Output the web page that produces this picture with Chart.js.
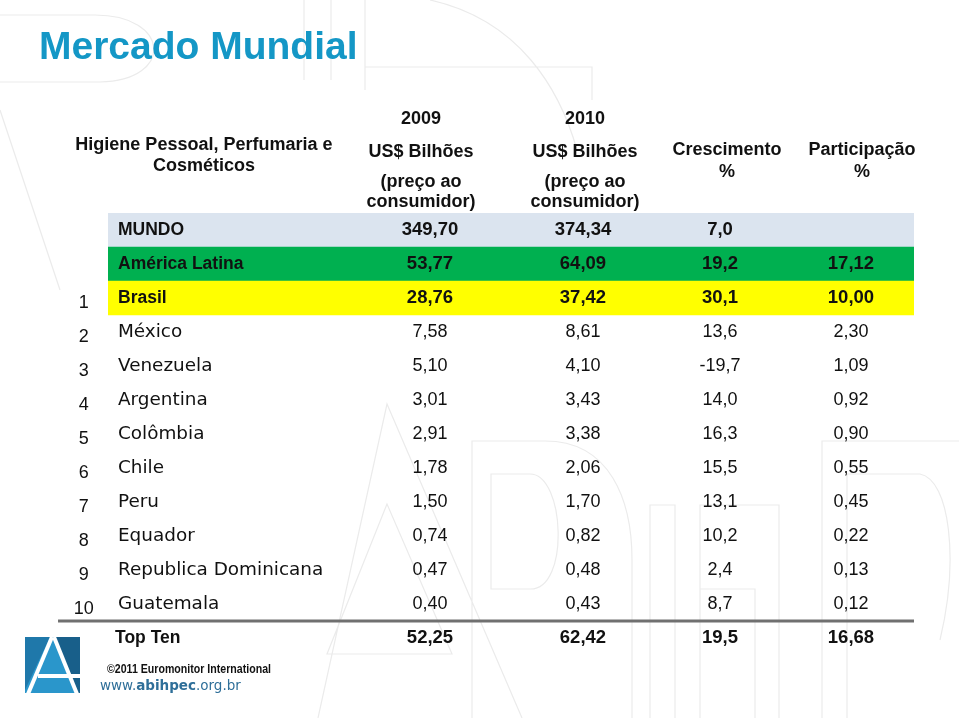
<!DOCTYPE html>
<html>
<head>
<meta charset="utf-8">
<script src="https://cdn.jsdelivr.net/npm/chart.js@4"></script>
<style>
html,body{margin:0;padding:0;background:#ffffff;}
#wrap{width:959px;height:718px;position:relative;}
</style>
</head>
<body>
<div id="wrap"><canvas id="c" width="959" height="718"></canvas></div>
<script>
// ---- data ----
const titleText = 'Mercado Mundial';
const rowLabels = ['MUNDO','América Latina','Brasil','México','Venezuela','Argentina','Colômbia','Chile','Peru','Equador','Republica Dominicana','Guatemala','Top Ten'];
const ranks = ['','','1','2','3','4','5','6','7','8','9','10',''];
const usd2009 = [349.70,53.77,28.76,7.58,5.10,3.01,2.91,1.78,1.50,0.74,0.47,0.40,52.25];
const usd2010 = [374.34,64.09,37.42,8.61,4.10,3.43,3.38,2.06,1.70,0.82,0.48,0.43,62.42];
const crescimento = [7.0,19.2,30.1,13.6,-19.7,14.0,16.3,15.5,13.1,10.2,2.4,8.7,19.5];
const participacao = [null,17.12,10.00,2.30,1.09,0.92,0.90,0.55,0.45,0.22,0.13,0.12,16.68];
const boldRows = ['MUNDO','América Latina','Brasil','Top Ten'];
const highlightedRows = ['MUNDO','América Latina','Brasil'];
const headerCategory = ['Higiene Pessoal, Perfumaria e','Cosméticos'];
const header2009 = ['2009','US$ Bilhões','(preço ao','consumidor)'];
const header2010 = ['2010','US$ Bilhões','(preço ao','consumidor)'];
const headerGrowth = ['Crescimento','%'];
const headerShare = ['Participação','%'];
const sourceText = '©2011 Euromonitor International';

// ---- styling ----
const bandColors = {'MUNDO':'#dbe4ef','América Latina':'#00b050','Brasil':'#ffff00'};
const fmt = (v,d) => v === null ? '' : v.toFixed(d).replace('.',',');
// column positions as fractions of the table width (x scale 0..1)
const COL = {rank:-0.030, label:0.0124, c1:0.3995, c2:0.5893, c3:0.7593, c4:0.9218};
const HCOL = {cat:0.119, c1:0.3883, c2:0.5918, c3:0.768, c4:0.9355};

function fitText(ctx, text, x, y, maxW){
  const w = ctx.measureText(text).width;
  if (w > maxW) {
    ctx.save(); ctx.translate(x,y); ctx.scale(maxW/w,1); ctx.fillText(text,0,0); ctx.restore();
  } else ctx.fillText(text,x,y);
}

const tablePlugin = {
  id:'tableText',
  afterDatasetsDraw(chart){
    const ctx = chart.ctx;
    const xs = chart.scales.x, ys = chart.scales.y;
    const X = v => xs.getPixelForValue(v);
    const Y = i => ys.getPixelForValue(i);
    const top = chart.chartArea.top;
    ctx.save();
    ctx.textBaseline = 'middle';
    ctx.fillStyle = '#111';

    // header
    ctx.font = 'bold 18px "Liberation Sans", Arial, sans-serif';
    ctx.textAlign = 'center';
    ctx.fillText(headerCategory[0], X(HCOL.cat), top-68);
    ctx.fillText(headerCategory[1], X(HCOL.cat), top-47);
    const hy = [top-94, top-61, top-31, top-11];
    header2009.forEach((t,k)=>ctx.fillText(t, X(HCOL.c1), hy[k]));
    header2010.forEach((t,k)=>ctx.fillText(t, X(HCOL.c2), hy[k]));
    ctx.fillText(headerGrowth[0], X(HCOL.c3), top-63);
    ctx.fillText(headerGrowth[1], X(HCOL.c3), top-41);
    ctx.fillText(headerShare[0], X(HCOL.c4), top-63);
    ctx.fillText(headerShare[1], X(HCOL.c4), top-41);

    // rows
    rowLabels.forEach((lab,i)=>{
      const y = Y(i);
      const bold = boldRows.includes(lab);
      ctx.fillStyle = '#111';
      if (ranks[i]) {
        ctx.font = '18px "Liberation Sans", Arial, sans-serif';
        ctx.textAlign = 'center';
        ctx.fillText(ranks[i], X(COL.rank), y+5);
      }
      ctx.textAlign = 'left';
      ctx.font = bold ? 'bold 17.5px "Liberation Sans", Arial, sans-serif' : '18.4px "DejaVu Sans", sans-serif';
      ctx.fillText(lab, X(COL.label) - (lab==='Top Ten'?3:0), y);
      ctx.textAlign = 'center';
      ctx.font = bold ? 'bold 18.5px "Liberation Sans", Arial, sans-serif' : '18px "Liberation Sans", Arial, sans-serif';
      ctx.fillText(fmt(usd2009[i],2), X(COL.c1), y);
      ctx.fillText(fmt(usd2010[i],2), X(COL.c2), y);
      ctx.fillText(fmt(crescimento[i],1), X(COL.c3), y);
      ctx.fillText(fmt(participacao[i],2), X(COL.c4), y);
    });

    // separator above Top Ten
    const n = rowLabels.length;
    const sepY = (Y(n-2)+Y(n-1))/2;
    ctx.strokeStyle = '#707070'; ctx.lineWidth = 3;
    ctx.beginPath(); ctx.moveTo(X(-0.062), sepY); ctx.lineTo(X(1), sepY); ctx.stroke();
    ctx.restore();
  },
  beforeDraw(chart){
    const ctx = chart.ctx;
    ctx.save();
    ctx.fillStyle = '#fff'; ctx.fillRect(0,0,chart.width,chart.height);
    // faint watermark outlines (decoration)
    ctx.strokeStyle = '#ebebeb'; ctx.lineWidth = 1.2;
    ctx.beginPath();
    // top-left letters
    ctx.moveTo(0,15); ctx.lineTo(95,15); ctx.bezierCurveTo(170,15,175,80,100,82); ctx.lineTo(0,82);
    ctx.moveTo(304,0); ctx.lineTo(304,80); ctx.moveTo(331,0); ctx.lineTo(331,80);
    ctx.moveTo(365,0); ctx.lineTo(365,90); ctx.moveTo(365,67); ctx.lineTo(592,67); ctx.lineTo(592,100);
    ctx.moveTo(430,0); ctx.bezierCurveTo(520,20,560,90,577,150);
    ctx.moveTo(0,110); ctx.lineTo(60,290);
    // bottom big A
    ctx.moveTo(318,718); ctx.lineTo(387,404); ctx.lineTo(522,718);
    ctx.moveTo(387,504); ctx.lineTo(327,654); ctx.lineTo(452,654); ctx.closePath();
    // D
    ctx.moveTo(472,718); ctx.lineTo(472,441); ctx.lineTo(545,441);
    ctx.bezierCurveTo(610,441,632,500,632,560); ctx.lineTo(632,718);
    ctx.moveTo(491,474); ctx.lineTo(530,474); ctx.bezierCurveTo(565,474,570,590,530,589); ctx.lineTo(491,589); ctx.closePath();
    // I / H
    ctx.moveTo(650,718); ctx.lineTo(650,505); ctx.lineTo(675,505); ctx.lineTo(675,718);
    ctx.moveTo(700,718); ctx.lineTo(700,505); ctx.lineTo(779,505); ctx.lineTo(779,718);
    ctx.moveTo(700,589); ctx.lineTo(755,589); ctx.lineTo(755,718);
    // right P
    ctx.moveTo(822,718); ctx.lineTo(822,441); ctx.lineTo(959,441);
    ctx.moveTo(847,718); ctx.lineTo(847,474); ctx.lineTo(920,474); ctx.bezierCurveTo(950,480,959,560,940,640);
    ctx.stroke();
    ctx.restore();
  },
  afterDraw(chart){
    const ctx = chart.ctx;
    ctx.save();
    // title
    ctx.fillStyle = '#1497c6';
    ctx.font = 'bold 39px "Liberation Sans", Arial, sans-serif';
    ctx.textBaseline = 'middle'; ctx.textAlign = 'left';
    ctx.fillText(titleText, 39, 48);
    // logo
    ctx.fillStyle = '#2a96cb'; ctx.fillRect(25,637,55,56);
    ctx.fillStyle = '#185f8a';
    ctx.beginPath(); ctx.moveTo(55,637); ctx.lineTo(80,637); ctx.lineTo(80,693); ctx.lineTo(78,693); ctx.closePath(); ctx.fill();
    ctx.fillStyle = '#1f78aa';
    ctx.beginPath(); ctx.moveTo(25,637); ctx.lineTo(50,637); ctx.lineTo(25,690); ctx.closePath(); ctx.fill();
    ctx.strokeStyle = '#fff'; ctx.lineWidth = 4;
    ctx.beginPath(); ctx.moveTo(28,694); ctx.lineTo(52,637); ctx.stroke();
    ctx.beginPath(); ctx.moveTo(54,637); ctx.lineTo(77,694); ctx.stroke();
    ctx.beginPath(); ctx.moveTo(38,676); ctx.lineTo(80,676); ctx.stroke();
    // source
    ctx.fillStyle = '#111';
    ctx.font = 'bold 12px "Liberation Sans", Arial, sans-serif';
    fitText(ctx, sourceText, 107, 670, 164);
    // url
    ctx.fillStyle = '#2f6f99';
    let x = 100;
    const parts = [['www.', false], ['abihpec', true], ['.org.br', false]];
    parts.forEach(([t,b])=>{
      ctx.font = (b?'bold ':'') + '13.5px "DejaVu Sans", sans-serif';
      ctx.fillText(t, x, 686);
      x += ctx.measureText(t).width;
    });
    ctx.restore();
  }
};

new Chart(document.getElementById('c'), {
  type:'bar',
  data:{
    labels: rowLabels,
    datasets:[{
      data: rowLabels.map(l => highlightedRows.includes(l) ? [0,1] : null),
      backgroundColor: rowLabels.map(l => bandColors[l] || 'rgba(0,0,0,0)'),
      borderWidth:0,
      barPercentage:1,
      categoryPercentage:1
    }]
  },
  options:{
    responsive:false,
    animation:false,
    indexAxis:'y',
    layout:{padding:{left:108,right:45,top:213,bottom:63}},
    plugins:{legend:{display:false},tooltip:{enabled:false},title:{display:false}},
    scales:{
      x:{type:'linear',min:0,max:1,display:false},
      y:{type:'category',display:false,offset:true}
    }
  },
  plugins:[tablePlugin]
});
</script>
</body>
</html>
